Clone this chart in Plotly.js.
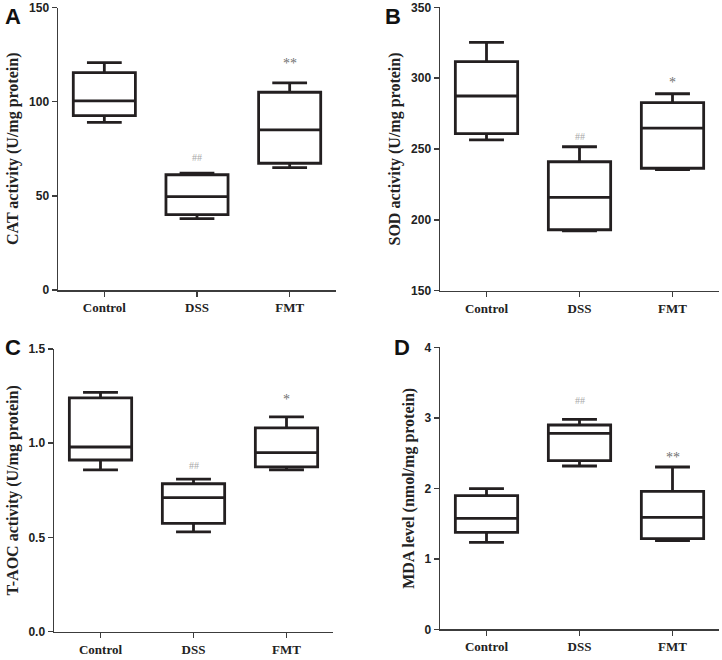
<!DOCTYPE html>
<html>
<head>
<meta charset="utf-8">
<script src="https://cdn.plot.ly/plotly-3.0.1.min.js"></script>
<style>html,body{margin:0;padding:0;background:#fff;}#chart{width:722px;height:660px;}</style>
</head>
<body>
<div id="chart"></div>
<script>
// ---- data ----
const groups = ['Control', 'DSS', 'FMT'];

// Panel A: CAT activity
const catMin    = [89.0, 37.9, 65.0];
const catQ1     = [92.6, 40.0, 67.3];
const catMedian = [100.4, 49.6, 85.0];
const catQ3     = [115.4, 61.2, 105.0];
const catMax    = [120.7, 62.0, 110.0];

// Panel B: SOD activity
const sodMin    = [256.4, 192.3, 235.4];
const sodQ1     = [260.8, 193.0, 236.4];
const sodMedian = [287.4, 215.9, 264.8];
const sodQ3     = [311.6, 241.0, 282.7];
const sodMax    = [325.3, 251.6, 289.0];

// Panel C: T-AOC activity
const taocMin    = [0.859, 0.530, 0.859];
const taocQ1     = [0.911, 0.575, 0.875];
const taocMedian = [0.980, 0.711, 0.950];
const taocQ3     = [1.241, 0.785, 1.081];
const taocMax    = [1.270, 0.810, 1.140];

// Panel D: MDA level
const mdaMin    = [1.234, 2.316, 1.257];
const mdaQ1     = [1.376, 2.392, 1.285];
const mdaMedian = [1.574, 2.780, 1.589];
const mdaQ3     = [1.895, 2.898, 1.957];
const mdaMax    = [1.995, 2.979, 2.302];

// significance marks: [group, y, text]
const marksA = [['DSS', 70.6, '##'], ['FMT', 120.0, '**']];
const marksB = [['DSS', 259, '##'], ['FMT', 297, '*']];
const marksC = [['DSS', 0.884, '##'], ['FMT', 1.23, '*']];
const marksD = [['DSS', 3.24, '##'], ['FMT', 2.44, '**']];

const yTitles = ['CAT activity (U/mg protein)', 'SOD activity (U/mg protein)',
                 'T-AOC activity (U/mg protein)', 'MDA level (nmol/mg protein)'];
const panelLetters = ['A', 'B', 'C', 'D'];

// ---- build ----
const boxLine = '#231f20';
function boxTrace(xa, ya, mn, q1, md, q3, mx) {
  return {
    type: 'box', xaxis: xa, yaxis: ya, x: groups,
    lowerfence: mn, q1: q1, median: md, q3: q3, upperfence: mx,
    fillcolor: 'rgba(0,0,0,0)', line: {color: boxLine, width: 2.8},
    width: 0.67, whiskerwidth: 0.56, boxpoints: false, hoverinfo: 'skip',
    showlegend: false
  };
}
const data = [
  boxTrace('x', 'y', catMin, catQ1, catMedian, catQ3, catMax),
  boxTrace('x2', 'y2', sodMin, sodQ1, sodMedian, sodQ3, sodMax),
  boxTrace('x3', 'y3', taocMin, taocQ1, taocMedian, taocQ3, taocMax),
  boxTrace('x4', 'y4', mdaMin, mdaQ1, mdaMedian, mdaQ3, mdaMax)
];

const axisCol = '#3c3c3c';
const tickFont = {family: 'Liberation Sans, Arial, sans-serif', size: 12, color: '#222', weight: 'bold'};
const catFont = {family: 'Liberation Serif, Times New Roman, serif', size: 13, color: '#222', weight: 'bold'};
const titleFont = {family: 'Liberation Serif, Times New Roman, serif', size: 16, color: '#222'};

function xAxis(domain, anchor) {
  return {domain: domain, anchor: anchor, type: 'category', range: [-0.5, 2.5],
    showline: true, linecolor: axisCol, linewidth: 1.5, ticks: 'outside', ticklen: 5,
    tickcolor: axisCol, tickwidth: 1.5, showgrid: false, zeroline: false, tickfont: catFont,
    fixedrange: true};
}
function yAxis(domain, anchor, range, dtick, title, fmt) {
  const a = {domain: domain, anchor: anchor, range: range, dtick: dtick, tick0: 0,
    showline: true, linecolor: axisCol, linewidth: 1.5, ticks: 'outside', ticklen: 5,
    tickcolor: axisCol, tickwidth: 1.5, showgrid: false, zeroline: false, tickfont: tickFont,
    title: {text: '<b>' + title + '</b>', font: titleFont, standoff: 6}, fixedrange: true};
  if (fmt) a.tickformat = fmt;
  return a;
}

const annotations = [];
function addMarks(marks, xr, yr, colorHash, colorStar) {
  marks.forEach(m => {
    annotations.push({xref: xr, yref: yr, x: m[0], y: m[1], text: m[2], showarrow: false,
      xanchor: 'center', yanchor: 'middle',
      font: {family: 'Liberation Serif, Times New Roman, serif', size: m[2].indexOf('#') >= 0 ? 10 : 14,
             color: m[2].indexOf('#') >= 0 ? colorHash : colorStar}});
  });
}
addMarks(marksA, 'x', 'y', '#a8a8a8', '#707070');
addMarks(marksB, 'x2', 'y2', '#a8a8a8', '#707070');
addMarks(marksC, 'x3', 'y3', '#a8a8a8', '#707070');
addMarks(marksD, 'x4', 'y4', '#a8a8a8', '#707070');

const letterPos = [[3, 2], [383, 2], [3, 333], [392, 333]];
panelLetters.forEach((L, i) => {
  annotations.push({xref: 'paper', yref: 'paper', x: letterPos[i][0] / 722, y: 1 - letterPos[i][1] / 660,
    xanchor: 'left', yanchor: 'top', text: L, showarrow: false,
    font: {family: 'Liberation Sans, Arial, sans-serif', size: 22, color: '#111', weight: 'bold'}});
});

const layout = {
  width: 722, height: 660, margin: {l: 0, r: 0, t: 0, b: 0},
  paper_bgcolor: '#fff', plot_bgcolor: '#fff', showlegend: false,
  xaxis:  xAxis([58 / 722, 336 / 722], 'y'),
  yaxis:  yAxis([1 - 290 / 660, 1 - 7.5 / 660], 'x', [0, 150], 50, yTitles[0]),
  xaxis2: xAxis([440 / 722, 719 / 722], 'y2'),
  yaxis2: yAxis([1 - 290.7 / 660, 1 - 7.3 / 660], 'x2', [150, 350], 50, yTitles[1]),
  xaxis3: xAxis([54 / 722, 333 / 722], 'y3'),
  yaxis3: yAxis([1 - 631.7 / 660, 1 - 349 / 660], 'x3', [0, 1.5], 0.5, yTitles[2], '.1f'),
  xaxis4: xAxis([440 / 722, 719 / 722], 'y4'),
  yaxis4: yAxis([1 - 629.3 / 660, 1 - 347.3 / 660], 'x4', [0, 4], 1, yTitles[3]),
  annotations: annotations
};

Plotly.newPlot('chart', data, layout, {staticPlot: true, displayModeBar: false});
</script>
</body>
</html>
